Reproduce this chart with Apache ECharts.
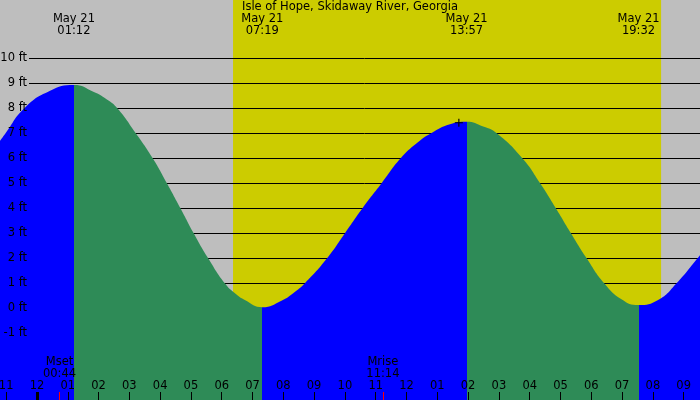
<!DOCTYPE html>
<html>
<head>
<meta charset="utf-8">
<script src="https://cdn.jsdelivr.net/npm/echarts@6/dist/echarts.min.js"></script>
<style>
html,body{margin:0;padding:0;background:#bebebe}
#main{width:700px;height:400px}
</style>
</head>
<body>
<div id="main"></div>
<script>
// tide curve: hours after midnight (May 21), height in ft
var tideHours = [-1.20, -1.02, -0.41, 0.41, 1.20, 1.83, 2.26, 2.61, 3.21, 3.76, 4.22, 4.66, 5.09, 5.56, 6.10, 6.43, 6.75, 7.32,
    7.94, 8.38, 8.70, 9.42, 10.00, 10.57, 11.19, 11.81, 12.33, 12.80, 13.41, 13.95, 14.49, 14.93, 15.76, 16.34, 16.85, 17.34,
    17.85, 18.42, 18.98, 19.53, 20.17, 20.77, 21.45, 21.53];
var tideFeet = [6.69, 7.0, 8.0, 8.69, 8.93, 8.66, 8.36, 8.0, 7.0, 6.0, 5.0, 4.0, 3.0, 2.0, 1.0, 0.6, 0.33, 0.04,
    0.30, 0.66, 1.0, 2.0, 3.0, 4.0, 5.0, 6.0, 6.6, 7.0, 7.36, 7.46, 7.27, 7.0, 6.0, 5.0, 4.0, 3.0,
    2.0, 1.0, 0.36, 0.13, 0.33, 1.0, 2.0, 2.12];

var extremeDate = 'May 21';
var extremeTimes = ['01:12', '07:19', '13:57', '19:32'];
var sunTimes = ['06:22', '20:16'];       // yellow band = daylight
var moonNames = ['Mset', 'Mrise'];
var moonTimes = ['00:44', '11:14'];
var hourTicks = [-1, 0, 1, 2, 3, 4, 5, 6, 7, 8, 9, 10, 11, 12, 13, 14, 15, 16, 17, 18, 19, 20, 21];
var feetTicks = [10, 9, 8, 7, 6, 5, 4, 3, 2, 1, 0, -1];
var nowMark = [13.70, 7.42];

var title = 'Isle of Hope, Skidaway River, Georgia';
var BLUE = '#0000ff', GREEN = '#2e8b57', GREY = '#bebebe', YELLOW = '#cccc00';
var FONT = 'DejaVu Sans';

var xMin = -1.20, xMax = 21.53, yMin = -3.67, yMax = 12.33;
var ftPx = 400 / (yMax - yMin);

function toHours(s) {
    var p = s.split(':');
    return +p[0] + p[1] / 60;
}
function pad(n) { return (n < 10 ? '0' : '') + n; }
function hourLabel(h) {
    var v = ((h % 12) + 12) % 12;
    return pad(v === 0 ? 12 : v);
}
function nearest(list, v) {
    var best = 0;
    for (var i = 0; i < list.length; i++) {
        if (Math.abs(toHours(list[i]) - v) < Math.abs(toHours(list[best]) - v)) best = i;
    }
    return best;
}

var tideData = [];
for (var i = 0; i < tideHours.length; i++) tideData.push([tideHours[i], tideFeet[i]]);

// rising water blue, falling water green: hard colour stops at each high / low
var first = tideHours[0], span = tideHours[tideHours.length - 1] - first;
var stops = [{offset: 0, color: BLUE}];
for (var k = 0; k < extremeTimes.length; k++) {
    var f = (toHours(extremeTimes[k]) - first) / span;
    var before = k % 2 === 0 ? BLUE : GREEN;
    var after = k % 2 === 0 ? GREEN : BLUE;
    stops.push({offset: f, color: before}, {offset: f, color: after});
}
stops.push({offset: 1, color: extremeTimes.length % 2 === 0 ? BLUE : GREEN});
var waterFill = new echarts.graphic.LinearGradient(0, 0, 1, 0, stops);

var ftTop = feetTicks[0], ftBottom = feetTicks[feetTicks.length - 1];

var myChart = echarts.init(document.getElementById('main'));
// layers: 0 = sky + foot lines, 1 = water, 2 = texts and ticks
var baseAxis = {
    type: 'value', min: xMin, max: xMax, gridIndex: 0, zlevel: 2,
    axisLine: {show: false, onZero: false}, splitLine: {show: false}
};
var txt = {color: '#000', fontFamily: FONT, fontSize: 11.5};

var option = {
    backgroundColor: GREY,
    animation: false,
    title: {
        text: title, left: 242, top: 1, padding: 0, zlevel: 2,
        textStyle: {color: '#000', fontFamily: FONT, fontSize: 11.5, fontWeight: 'normal'}
    },
    grid: [
        {left: 0, right: 0, top: 0, bottom: 0, containLabel: false, outerBoundsMode: 'none'},
        // second grid only carries the foot lines, which start right of the labels
        {left: 29, right: 0, top: (yMax - ftTop) * ftPx, bottom: (ftBottom - yMin) * ftPx,
            containLabel: false, outerBoundsMode: 'none'}
    ],
    xAxis: [
        echarts.util.extend({
            position: 'bottom',
            axisTick: {inside: true, length: 8, lineStyle: {color: '#000', width: 1}, customValues: hourTicks},
            axisLabel: echarts.util.extend({inside: true, margin: 8, customValues: hourTicks,
                formatter: function (v) { return hourLabel(Math.round(v)); }}, txt)
        }, baseAxis),
        echarts.util.extend({
            position: 'bottom',
            axisTick: {inside: true, length: 8, lineStyle: {color: '#000', width: 3}, customValues: [0]},
            axisLabel: {show: false}
        }, baseAxis),
        echarts.util.extend({
            position: 'bottom',
            axisTick: {inside: true, length: 8, lineStyle: {color: '#ff0000', width: 1},
                customValues: moonTimes.map(toHours)},
            axisLabel: echarts.util.extend({inside: true, margin: 20, lineHeight: 12,
                customValues: moonTimes.map(toHours),
                formatter: function (v) {
                    var n = nearest(moonTimes, v);
                    return moonNames[n] + '\n' + moonTimes[n];
                }}, txt)
        }, baseAxis),
        echarts.util.extend({
            position: 'top',
            axisTick: {show: false},
            axisLabel: echarts.util.extend({inside: true, margin: 13, lineHeight: 12,
                customValues: extremeTimes.map(toHours),
                formatter: function (v) {
                    return extremeDate + '\n' + extremeTimes[nearest(extremeTimes, v)];
                }}, txt)
        }, baseAxis),
        {type: 'value', gridIndex: 1, min: 0, max: 1, show: false}
    ],
    yAxis: [
        {
            type: 'value', min: yMin, max: yMax, zlevel: 2,
            axisLine: {show: false, onZero: false}, axisTick: {show: false}, splitLine: {show: false},
            axisLabel: echarts.util.extend({inside: true, align: 'right', margin: 27, customValues: feetTicks,
                formatter: function (v) { return Math.round(v) + ' ft'; }}, txt)
        },
        {
            type: 'value', gridIndex: 1, min: ftBottom, max: ftTop, interval: 1, zlevel: 0, z: 5,
            axisLine: {show: false}, axisTick: {show: false}, axisLabel: {show: false},
            splitLine: {show: true, lineStyle: {color: '#000', width: 1}}
        }
    ],
    series: [
        {
            // daylight band
            type: 'line', zlevel: 0, z: 1, silent: true,
            data: [[toHours(sunTimes[0]), yMax], [toHours(sunTimes[1]), yMax]],
            showSymbol: false, lineStyle: {width: 0},
            areaStyle: {color: YELLOW, opacity: 1, origin: 'start'}
        },
        {
            name: 'tide',
            type: 'line', data: tideData, zlevel: 1, silent: true,
            smooth: true, showSymbol: false,
            lineStyle: {width: 0, color: BLUE},
            itemStyle: {color: BLUE},
            areaStyle: {color: waterFill, opacity: 1, origin: 'start'}
        },
        {
            type: 'scatter', data: [nowMark], zlevel: 1, z: 5, silent: true,
            symbol: 'path://M3,0h1v7h-1z M0,3h7v1h-7z', symbolSize: 8,
            itemStyle: {color: '#000', opacity: 1}
        }
    ]
};
myChart.setOption(option);
</script>
</body>
</html>
